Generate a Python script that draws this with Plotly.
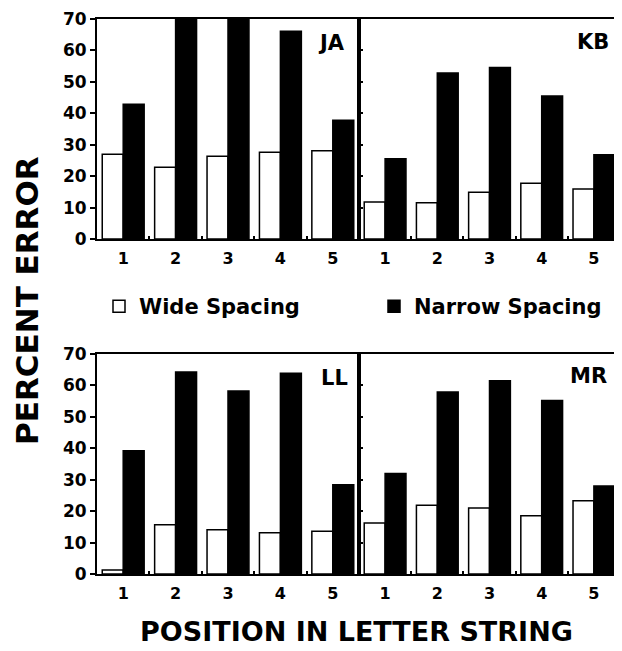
import plotly.graph_objects as go

W, H = 622, 651
OFF = 8  # page body margin offset

positions = [1, 2, 3, 4, 5]
tick_labels = ["1", "2", "3", "4", "5"]
y_ticks = [0, 10, 20, 30, 40, 50, 60, 70]
panels = ["JA", "KB", "LL", "MR"]

ja_wide = [27, 22.8, 26.3, 27.6, 28.1]
ja_narrow = [42.9, 70, 71.6, 66.1, 37.8]
kb_wide = [11.8, 11.5, 14.9, 17.7, 15.9]
kb_narrow = [25.5, 52.8, 54.6, 45.5, 26.8]
ll_wide = [1.3, 15.7, 14.1, 13.1, 13.6]
ll_narrow = [39.2, 64.3, 58.2, 63.9, 28.4]
mr_wide = [16.2, 21.9, 21.0, 18.5, 23.3]
mr_narrow = [32.0, 57.9, 61.5, 55.2, 28.0]

wide_series = [ja_wide, kb_wide, ll_wide, mr_wide]
narrow_series = [ja_narrow, kb_narrow, ll_narrow, mr_narrow]

FONT = "DejaVu Sans"

def px(x):
    return (x - OFF) / W

def py(y):
    return 1 - (y - OFF) / H

x_doms = [[px(97), px(359)], [px(359), px(620)]]
y_doms = [[py(239), py(19)], [py(574), py(354)]]

fig = go.Figure()

for i, name in enumerate(panels):
    n = i + 1
    xa = "x" if n == 1 else f"x{n}"
    ya = "y" if n == 1 else f"y{n}"
    fig.add_trace(go.Bar(
        x=positions, y=wide_series[i], xaxis=xa, yaxis=ya,
        name="Wide Spacing", legendgroup="wide", showlegend=(i == 0),
        marker=dict(color="white", line=dict(color="black", width=1.5)),
        cliponaxis=False,
    ))
    fig.add_trace(go.Bar(
        x=positions, y=narrow_series[i], xaxis=xa, yaxis=ya,
        name="Narrow Spacing", legendgroup="narrow", showlegend=(i == 0),
        marker=dict(color="black", line=dict(color="black", width=1.5)),
        cliponaxis=False,
    ))

layout = dict(
    width=W, height=H, autosize=False,
    margin=dict(l=0, r=0, t=0, b=0, pad=0, autoexpand=False),
    paper_bgcolor="white", plot_bgcolor="white",
    barmode="group", bargap=0.2, bargroupgap=0.0,
    font=dict(family=FONT, color="black", weight="bold"),
    showlegend=True,
    legend=dict(
        orientation="h", x=px(99), y=py(286), xanchor="left", yanchor="top",
        font=dict(family=FONT, size=21, color="black", weight="bold"),
        entrywidth=230, entrywidthmode="pixels", itemwidth=30,
        bgcolor="rgba(0,0,0,0)", tracegroupgap=0,
    ),
)

for i in range(4):
    n = i + 1
    col = i % 2
    row = i // 2
    xk = "xaxis" if n == 1 else f"xaxis{n}"
    yk = "yaxis" if n == 1 else f"yaxis{n}"
    layout[xk] = dict(
        domain=x_doms[col], anchor="y" if n == 1 else f"y{n}",
        range=[0.5, 5.5], tickmode="array", tickvals=positions, ticktext=tick_labels,
        ticks="", showgrid=False, zeroline=False, automargin=False,
        showline=True, linecolor="black", linewidth=2, mirror=True,
        tickfont=dict(family=FONT, size=16, color="black", weight="bold"),
        ticklabelstandoff=4,
        minor=dict(tickvals=[1.5, 2.5, 3.5, 4.5], ticks="inside", ticklen=3,
                   tickcolor="black", tickwidth=1.5, showgrid=False),
    )
    ydict = dict(
        domain=y_doms[row], anchor="x" if n == 1 else f"x{n}",
        range=[0, 70], tickmode="array", tickvals=y_ticks,
        showgrid=False, zeroline=False, automargin=False,
        showline=True, linecolor="black", linewidth=2, mirror=True,
        tickcolor="black", tickwidth=1.5,
        tickfont=dict(family=FONT, size=17, color="black", weight="bold"),
    )
    if col == 0:
        ydict.update(ticks="outside", ticklen=5, showticklabels=True)
    else:
        ydict.update(ticks="inside", ticklen=4, showticklabels=False)
    layout[yk] = ydict

fig.update_layout(**layout)

label_pos = [(331, 43), (593, 42), (334, 378), (588, 376)]
for name, (lx, ly) in zip(panels, label_pos):
    fig.add_annotation(
        text=name, x=px(lx), y=py(ly), xref="paper", yref="paper",
        xanchor="center", yanchor="middle", showarrow=False,
        font=dict(family=FONT, size=21, color="black", weight="bold"),
    )

fig.add_annotation(
    text="PERCENT ERROR", x=px(27), y=py(301), xref="paper", yref="paper",
    xanchor="center", yanchor="middle", showarrow=False, textangle=-90,
    font=dict(family=FONT, size=31, color="black", weight="bold"),
)
fig.add_annotation(
    text="POSITION IN LETTER STRING", x=px(357), y=py(631), xref="paper", yref="paper",
    xanchor="center", yanchor="middle", showarrow=False,
    font=dict(family=FONT, size=27, color="black", weight="bold"),
)

fig.write_html("out.html")
